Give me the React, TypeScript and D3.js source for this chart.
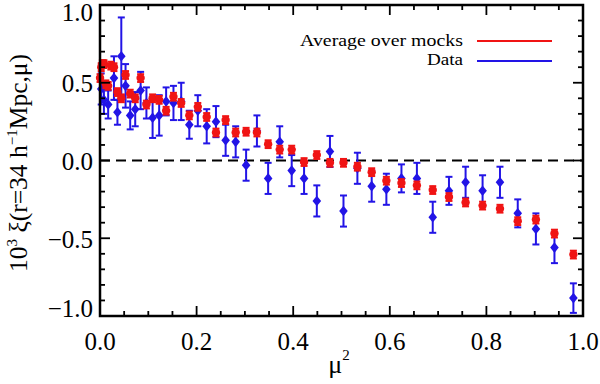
import * as d3 from "d3";

// mu^2 bin centres, average over mocks (red)
const mockMu2 = [
  0.0001, 0.0025, 0.0049, 0.0081, 0.0121, 0.0169, 0.0225, 0.0289, 0.0361, 0.0441,
  0.0529, 0.0625, 0.0729, 0.0841, 0.0961, 0.1089, 0.1225, 0.1369, 0.1521, 0.1681,
  0.1849, 0.2025, 0.2209, 0.2401, 0.2601, 0.2809, 0.3025, 0.3249, 0.3481, 0.3721,
  0.3969, 0.4225, 0.4489, 0.4761, 0.5041, 0.5329, 0.5625, 0.5929, 0.6241, 0.6561,
  0.6889, 0.7225, 0.7569, 0.7921, 0.8281, 0.8649, 0.9025, 0.9409, 0.9801,
];
const mockXi = [
  0.53, 0.6, 0.62, 0.62, 0.49, 0.48, 0.61, 0.6, 0.44, 0.4,
  0.55, 0.43, 0.4, 0.53, 0.36, 0.4, 0.39, 0.32, 0.41, 0.37,
  0.29, 0.345, 0.28, 0.18, 0.26, 0.18, 0.185, 0.18, 0.105, 0.07,
  0.07, -0.01, 0.035, -0.015, -0.015, -0.04, -0.075, -0.13, -0.145, -0.16,
  -0.19, -0.235, -0.27, -0.29, -0.31, -0.39, -0.38, -0.47, -0.605,
];
const mockErr = 0.025;

// measured data (blue)
const dataMu2 = [
  0.0025, 0.0081, 0.0169, 0.0289, 0.0361, 0.0441, 0.0529, 0.0625, 0.0729, 0.0841,
  0.0961, 0.1089, 0.1225, 0.1369, 0.1521, 0.1681, 0.1849, 0.2025, 0.2209, 0.2401,
  0.2601, 0.2809, 0.3025, 0.3249, 0.3481, 0.3721, 0.3969, 0.4225, 0.4489, 0.4761,
  0.5041, 0.5329, 0.5625, 0.5929, 0.6241, 0.6561, 0.6889, 0.7225, 0.7569, 0.7921,
  0.8281, 0.8649, 0.9025, 0.9409, 0.9801,
];
const dataXi = [
  0.46, 0.39, 0.36, 0.53, 0.31, 0.67, 0.48, 0.29, 0.33, 0.45,
  0.37, 0.275, 0.29, 0.38, 0.37, 0.38, 0.23, 0.32, 0.22, 0.25,
  0.13, 0.12, -0.03, 0.19, -0.115, 0.12, -0.065, -0.115, -0.26, 0.058,
  -0.325, -0.05, -0.165, -0.185, -0.115, -0.115, -0.365, -0.195, -0.14, -0.195,
  -0.14, -0.34, -0.44, -0.56, -0.885,
];
const dataErr = [
  0.1, 0.09, 0.09, 0.14, 0.08, 0.25, 0.14, 0.09, 0.11, 0.12,
  0.1, 0.13, 0.13, 0.09, 0.11, 0.12, 0.09, 0.1, 0.11, 0.1,
  0.1, 0.1, 0.1, 0.1, 0.1, 0.1, 0.1, 0.1, 0.1, 0.1,
  0.1, 0.1, 0.1, 0.1, 0.09, 0.1, 0.1, 0.09, 0.1, 0.1,
  0.1, 0.09, 0.1, 0.1, 0.095,
];

const xMajor = [0, 0.2, 0.4, 0.6, 0.8, 1.0];
const yMajor = [-1, -0.5, 0, 0.5, 1];

const RED = "#f01414";
const BLUE = "#2214e6";
const FONT = "Liberation Serif, Times New Roman, DejaVu Serif, serif";

const W = 600;
const H = 384;
const left = 100;
const right = 583;
const top = 5;
const bottom = 316;

const fmt = (v: number) => (v < 0 ? "\u2212" : "") + Math.abs(v).toFixed(1);

export default function App() {
  const x = d3.scaleLinear().domain([0, 1]).range([left, right]);
  const y = d3.scaleLinear().domain([-1, 1]).range([bottom, top]);

  const xMinor = d3.range(0, 1.0001, 0.05);
  const yMinor = d3.range(-1, 1.0001, 0.1);
  const cap = 3.5;

  const diamond = (cx: number, cy: number) =>
    `M${cx},${cy - 5.3}L${cx + 4.3},${cy}L${cx},${cy + 5.3}L${cx - 4.3},${cy}Z`;

  return (
    <svg
      width={W}
      height={H}
      style={{ display: "block", position: "absolute", left: 0, top: 0, fontFamily: FONT }}
    >
      <rect width={W} height={H} fill="#fff" />

      {/* zero line */}
      <line x1={left} x2={right} y1={y(0)} y2={y(0)} stroke="#000" strokeWidth={2} strokeDasharray="10,6" />

      {/* data: blue diamonds with error bars */}
      <g stroke={BLUE} strokeWidth={2} fill={BLUE}>
        {dataMu2.map((m, i) => {
          const cx = x(m);
          const y1 = y(dataXi[i] + dataErr[i]);
          const y0 = y(dataXi[i] - dataErr[i]);
          return (
            <g key={i}>
              <line x1={cx} x2={cx} y1={y1} y2={y0} />
              <line x1={cx - cap} x2={cx + cap} y1={y1} y2={y1} />
              <line x1={cx - cap} x2={cx + cap} y1={y0} y2={y0} />
              <path d={diamond(cx, y(dataXi[i]))} stroke="none" />
            </g>
          );
        })}
      </g>

      {/* mocks: red circles with error bars */}
      <g stroke={RED} strokeWidth={2} fill={RED}>
        {mockMu2.map((m, i) => {
          const cx = x(m);
          const y1 = y(mockXi[i] + mockErr);
          const y0 = y(mockXi[i] - mockErr);
          return (
            <g key={i}>
              <line x1={cx} x2={cx} y1={y1} y2={y0} />
              <line x1={cx - cap} x2={cx + cap} y1={y1} y2={y1} />
              <line x1={cx - cap} x2={cx + cap} y1={y0} y2={y0} />
              <circle cx={cx} cy={y(mockXi[i])} r={4.2} stroke="none" />
            </g>
          );
        })}
      </g>

      {/* ticks on all four sides */}
      <g stroke="#000" strokeWidth={1.8}>
        {xMinor.map((v, i) => {
          const len = i % 4 === 0 ? 10 : 5;
          return (
            <g key={"x" + i}>
              <line x1={x(v)} x2={x(v)} y1={bottom} y2={bottom - len} />
              <line x1={x(v)} x2={x(v)} y1={top} y2={top + len} />
            </g>
          );
        })}
        {yMinor.map((v, i) => {
          const len = i % 5 === 0 ? 10 : 5;
          return (
            <g key={"y" + i}>
              <line x1={left} x2={left + len} y1={y(v)} y2={y(v)} />
              <line x1={right} x2={right - len} y1={y(v)} y2={y(v)} />
            </g>
          );
        })}
      </g>

      {/* frame */}
      <rect x={left} y={top} width={right - left} height={bottom - top} fill="none" stroke="#000" strokeWidth={2.5} />

      {/* tick labels */}
      <g fontSize={25} fill="#000">
        {xMajor.map((v) => (
          <text key={"xl" + v} x={x(v)} y={350} textAnchor="middle">
            {fmt(v)}
          </text>
        ))}
        {yMajor.map((v) => {
          let base = y(v) + 9.5;
          if (v === 1) base = y(v) + 16;
          if (v === -1) base = y(v) + 1;
          return (
            <text key={"yl" + v} x={93} y={base} textAnchor="end">
              {fmt(v)}
            </text>
          );
        })}
      </g>

      {/* x axis title */}
      <text x={339} y={373} fontSize={26} textAnchor="middle">
        μ<tspan fontSize={15} dy={-13}>2</tspan>
      </text>

      {/* y axis title */}
      <text transform="translate(27,163) rotate(-90)" fontSize={25.5} textAnchor="middle">
        10<tspan fontSize={15} dy={-10}>3</tspan>
        <tspan dy={10}> ξ(r=34 h</tspan>
        <tspan fontSize={15} dy={-10}>−1</tspan>
        <tspan dy={10}>Mpc,μ)</tspan>
      </text>

      {/* legend */}
      <g fontSize={17}>
        <text x={300} y={46} textLength={163} lengthAdjust="spacingAndGlyphs">
          Average over mocks
        </text>
        <line x1={477} x2={552} y1={41} y2={41} stroke={RED} strokeWidth={2} />
        <text x={427} y={65} textLength={36} lengthAdjust="spacingAndGlyphs">
          Data
        </text>
        <line x1={477} x2={552} y1={61} y2={61} stroke={BLUE} strokeWidth={2} />
      </g>
    </svg>
  );
}
